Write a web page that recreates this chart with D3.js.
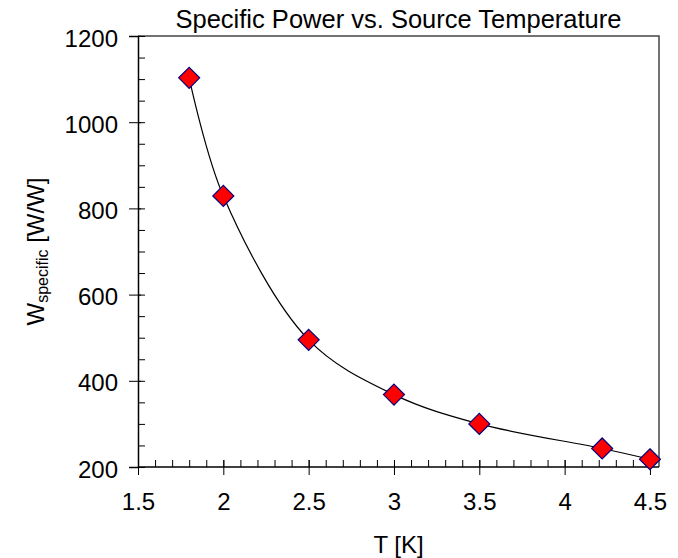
<!DOCTYPE html>
<html>
<head>
<meta charset="utf-8">
<script src="https://cdn.jsdelivr.net/npm/d3@7"></script>
<style>
  body { margin: 0; background: #fff; }
  text { font-family: "Liberation Sans", Arial, sans-serif; fill: #000; }
</style>
</head>
<body>
<div id="chart"></div>
<script>

// Specific power vs source temperature

// data
const temps = [1.8, 2.0, 2.5, 3.0, 3.5, 4.22, 4.5];
const wSpecific = [1103, 829, 495, 368, 300, 243, 218];

const xTicks = [1.5, 2, 2.5, 3, 3.5, 4, 4.5];
const yTicks = [200, 400, 600, 800, 1000, 1200];

const width = 678;
const height = 558;
const margin = {left: 138, right: 19, top: 36, bottom: 91};

const svg = d3.select("#chart")
  .append("svg")
  .attr("width", width)
  .attr("height", height);

// x runs a little past 4.5 to the right frame
const xScale = d3.scaleLinear()
  .domain([1.5, 4.553])
  .range([margin.left, width - margin.right]);

const yScale = d3.scaleLinear()
  .domain([200, 1200])
  .range([height - margin.bottom, margin.top]);

// frame (top and right)
svg.append("path")
  .attr("d", `M${margin.left},${margin.top}H${width - margin.right}V${height - margin.bottom}`)
  .attr("fill", "none")
  .attr("stroke", "#444")
  .attr("stroke-width", 1.5);

// minor ticks, pointing inside
const xMinor = d3.range(15, 46).map(d => d / 10);
const yMinor = d3.range(200, 1201, 50);

svg.append("g")
  .attr("transform", `translate(0,${height - margin.bottom})`)
  .call(d3.axisTop(xScale).tickValues(xMinor).tickSize(7).tickFormat(""))
  .call(g => g.select(".domain").remove());

svg.append("g")
  .attr("transform", `translate(${margin.left},0)`)
  .call(d3.axisRight(yScale).tickValues(yMinor).tickSize(7).tickFormat(""))
  .call(g => g.select(".domain").remove());

// x axis, major ticks cross the line
const xAxis = svg.append("g")
  .attr("transform", `translate(0,${height - margin.bottom})`)
  .call(d3.axisBottom(xScale).tickValues(xTicks).tickSize(8).tickPadding(18)
    .tickFormat(d => d))
  .attr("font-size", "24px");
xAxis.select(".domain").attr("d", `M${margin.left},0H${width - margin.right}`).attr("stroke-width", 1.5);
xAxis.selectAll(".tick line").attr("y1", -7);
xAxis.selectAll("text").attr("font-family", "Liberation Sans, Arial, sans-serif");

// y axis
const yAxis = svg.append("g")
  .attr("transform", `translate(${margin.left},0)`)
  .call(d3.axisLeft(yScale).tickValues(yTicks).tickSize(9).tickPadding(11)
    .tickFormat(d3.format("d")))
  .attr("font-size", "24px");
yAxis.select(".domain").attr("stroke-width", 1.5);
yAxis.selectAll(".tick line").attr("x1", 3);
yAxis.selectAll("text").attr("font-family", "Liberation Sans, Arial, sans-serif").attr("dy", "0.42em");

// fitted curve through the points
const points = temps.map((t, i) => [t, wSpecific[i]]);

const line = d3.line()
  .x(d => xScale(d[0]))
  .y(d => yScale(d[1]))
  .curve(d3.curveCatmullRom.alpha(0.5));

svg.append("path")
  .datum(points)
  .attr("d", line)
  .attr("fill", "none")
  .attr("stroke", "#000")
  .attr("stroke-width", 1.2);

// diamond markers
svg.selectAll(".pt")
  .data(points)
  .enter()
  .append("path")
    .attr("class", "pt")
    .attr("transform", d => `translate(${xScale(d[0])},${yScale(d[1])})`)
    .attr("d", "M0,-10.5L10.5,0L0,10.5L-10.5,0Z")
    .attr("fill", "#ff0000")
    .attr("stroke", "#000080")
    .attr("stroke-width", 1.2);

// title and labels
const plotMid = (margin.left + width - margin.right) / 2;

svg.append("text")
  .attr("x", plotMid)
  .attr("y", 28)
  .attr("text-anchor", "middle")
  .attr("font-size", "25.5px")
  .text("Specific Power vs. Source Temperature");

svg.append("text")
  .attr("x", plotMid)
  .attr("y", 553)
  .attr("text-anchor", "middle")
  .attr("font-size", "24px")
  .text("T [K]");

const yLab = svg.append("text")
  .attr("transform", `translate(44,${(margin.top + height - margin.bottom) / 2}) rotate(-90)`)
  .attr("text-anchor", "middle")
  .attr("font-size", "24px");
yLab.append("tspan").text("W");
yLab.append("tspan").attr("font-size", "16px").attr("dy", "4").text("specific");
yLab.append("tspan").attr("dy", "-4").text(" [W/W]");

</script>
</body>
</html>
